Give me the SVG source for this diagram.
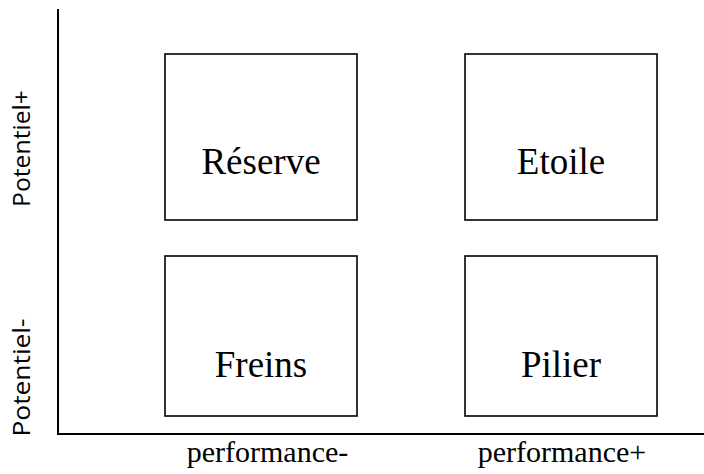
<svg xmlns="http://www.w3.org/2000/svg" width="704" height="474" viewBox="0 0 704 474">
  <style>
    .box { fill: #ffffff; stroke: #000000; stroke-width: 1.6; }
    .axis { stroke: #000000; stroke-width: 2; fill: none; }
    .label { font-family: "Liberation Serif", "Times New Roman", serif; font-size: 37px; fill: #000000; text-anchor: middle; }
    .xlab { font-family: "Liberation Serif", "Times New Roman", serif; font-size: 30px; fill: #000000; text-anchor: middle; }
    .ylab { font-family: "Open Sans", "Noto Sans", sans-serif; font-size: 23px; fill: #000000; text-anchor: middle; }
  </style>
  <rect width="704" height="474" fill="#ffffff"/>

  <!-- axes -->
  <g id="axes">
    <path class="axis" d="M58 9 V434 H704"/>
    <text class="ylab" transform="translate(30 148.5) rotate(-90)" textLength="117" lengthAdjust="spacingAndGlyphs">Potentiel+</text>
    <text class="ylab" transform="translate(30 377.5) rotate(-90)" textLength="118" lengthAdjust="spacingAndGlyphs">Potentiel-</text>
    <text class="xlab" x="267.5" y="462">performance-</text>
    <text class="xlab" x="562" y="462">performance+</text>
  </g>

  <!-- quadrants -->
  <g id="reserve">
    <rect class="box" x="165" y="54" width="192" height="166"/>
    <text class="label" x="261" y="174">Réserve</text>
  </g>
  <g id="etoile">
    <rect class="box" x="465" y="54" width="192" height="166"/>
    <text class="label" x="561" y="174">Etoile</text>
  </g>
  <g id="freins">
    <rect class="box" x="165" y="256" width="192" height="160"/>
    <text class="label" x="261" y="377">Freins</text>
  </g>
  <g id="pilier">
    <rect class="box" x="465" y="256" width="192" height="160"/>
    <text class="label" x="561" y="377">Pilier</text>
  </g>

  <!-- no connectors in this chart -->
  <g id="connectors"/>
</svg>
